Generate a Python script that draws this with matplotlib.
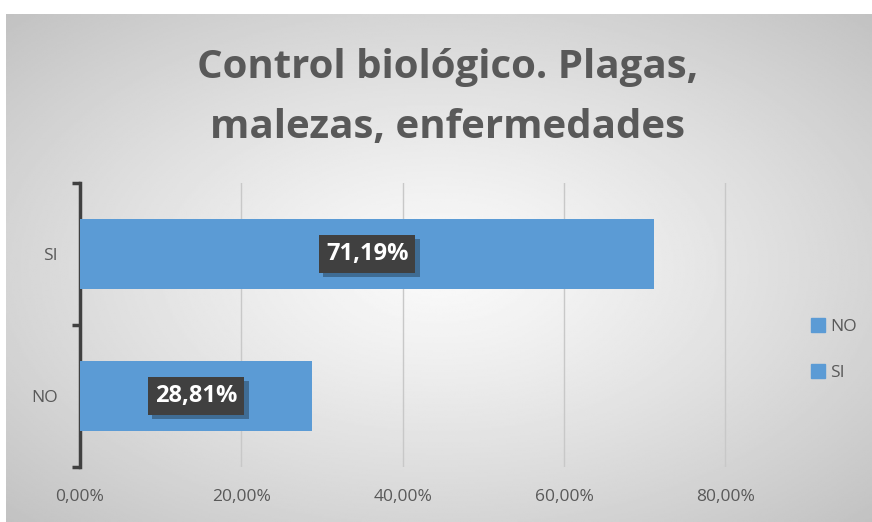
import matplotlib
matplotlib.use("Agg")
import matplotlib.pyplot as plt
import matplotlib.patheffects as pe
import numpy as np
from matplotlib.patches import Patch

# datos
categorias = ["NO", "SI"]
valores = [0.2881, 0.7119]
etiquetas = ["28,81%", "71,19%"]
ticks_x = [0.0, 0.2, 0.4, 0.6, 0.8]
ticks_x_txt = ["0,00%", "20,00%", "40,00%", "60,00%", "80,00%"]
titulo = "Control biológico. Plagas,\nmalezas, enfermedades"

azul = "#5B9BD5"
gris_txt = "#595959"
fuente = "Open Sans"

fig = plt.figure(figsize=(8.72, 5.22), dpi=100)

# fondo con degradado radial
bg = fig.add_axes([6 / 872, 0, 1 - 6 / 872, (522 - 14) / 522])
yy, xx = np.mgrid[-1:1:300j, -1:1:500j]
r = np.sqrt(xx ** 2 + yy ** 2) / np.sqrt(2)
grad = 0.98 - 0.22 * r ** 1.2
bg.imshow(grad, cmap="gray", vmin=0, vmax=1, aspect="auto", extent=[0, 1, 0, 1])
bg.axis("off")

ax = fig.add_axes([80 / 872, 55 / 522, (727 - 80) / 872, (467 - 183) / 522])
ax.patch.set_alpha(0)

pos = np.arange(len(categorias))
ax.barh(pos, valores, height=0.49, color=azul, zorder=3)

ax.set_xlim(0, 0.802)
ax.set_ylim(-0.5, 1.5)
ax.set_xticks(ticks_x)
ax.set_xticklabels(ticks_x_txt, fontsize=12.5, color=gris_txt, family=fuente)
ax.tick_params(axis="x", length=0, pad=16)
ax.grid(axis="x", color="#c8c8c8", linewidth=1, zorder=0)

ax.set_yticks([-0.5, 0.5, 1.5])
ax.set_yticklabels([])
ax.set_yticks(pos, minor=True)
ax.set_yticklabels(categorias, minor=True, fontsize=12.5, color=gris_txt, family=fuente)
ax.tick_params(axis="y", which="major", length=6, width=2.5, color="#404040", direction="out")
ax.tick_params(axis="y", which="minor", length=0, pad=16)

for s in ["top", "right", "bottom"]:
    ax.spines[s].set_visible(False)
ax.spines["left"].set_color("#404040")
ax.spines["left"].set_linewidth(2.5)

for p, v, t in zip(pos, valores, etiquetas):
    txt = ax.text(v / 2, p, t, ha="center", va="center", fontsize=17, fontweight="bold",
                  color="white", family=fuente, zorder=5,
                  bbox=dict(boxstyle="square,pad=0.3", fc="#404040", ec="none"))
    txt.get_bbox_patch().set_path_effects(
        [pe.SimplePatchShadow(offset=(3, -3), shadow_rgbFace="black", alpha=0.3), pe.Normal()])

fig.text(0.513, 0.813, titulo, ha="center", va="center", fontsize=29,
         fontweight="bold", color=gris_txt, family=fuente, linespacing=1.7)

handles = [Patch(color=azul, label=c) for c in categorias]
fig.legend(handles=handles, loc="center left", bbox_to_anchor=(0.912, 0.33),
           frameon=False, labelcolor=gris_txt, handlelength=0.8,
           handleheight=0.8, handletextpad=0.3, labelspacing=1.7,
           prop={"family": fuente, "size": 12.5})

fig.savefig("out.png", dpi=100)
